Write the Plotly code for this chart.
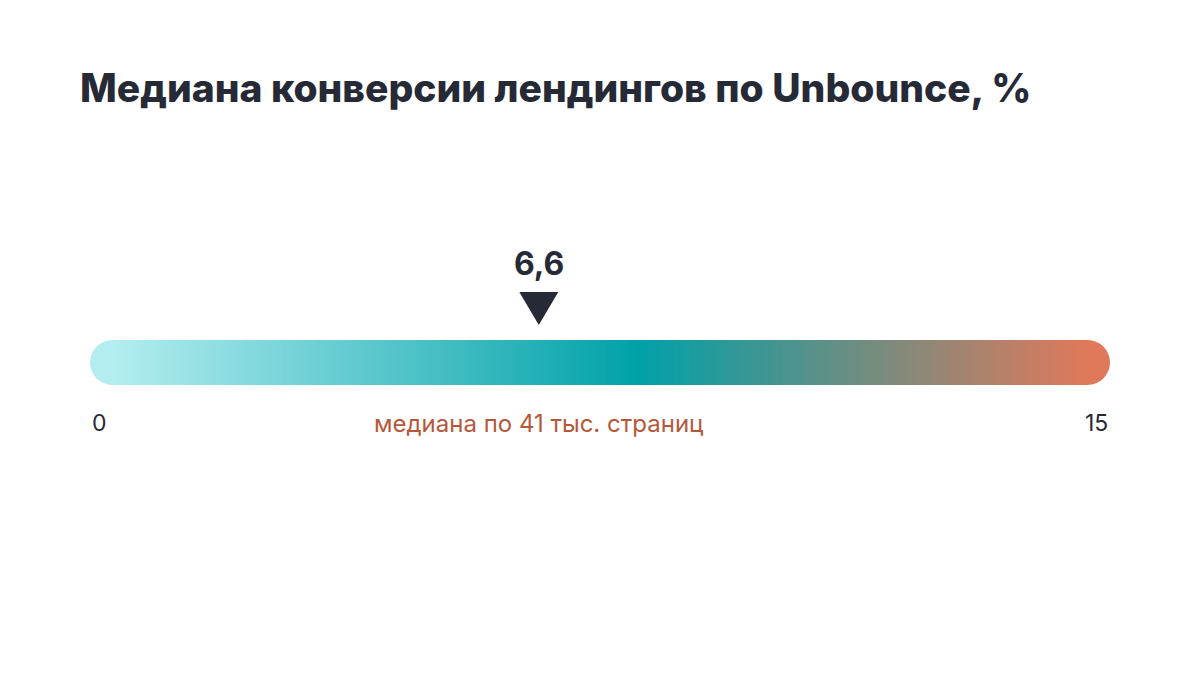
import numpy as np
import plotly.graph_objects as go

# chart data
title_text = "Медиана конверсии лендингов по Unbounce, %"
scale_min = 0
scale_max = 15
median_value = 6.6
median_note = "медиана по 41 тыс. страниц"

# gradient stops (position on scale as fraction, colour)
grad_stops = [[0.0, "#B3EDF0"], [0.54, "#00A1A8"], [1.0, "#E0795A"]]

W, H = 1200, 675
off = 8  # page body margin pushes the figure 8px right and down
left, right = 90 - off, 90 + off
bar_top, bar_bot = 340 - off, 385 - off
bar_h = bar_bot - bar_top
plot_w = W - left - right
radius_units = (bar_h / 2) / plot_w * (scale_max - scale_min)

# heatmap cells for the gradient body (ends rounded by circles below it)
edges = np.linspace(scale_min + radius_units, scale_max - radius_units, 401)
centers = (edges[:-1] + edges[1:]) / 2

fig = go.Figure()
fig.add_trace(go.Heatmap(
    x=edges, y=[bar_top, bar_bot], z=[centers],
    colorscale=grad_stops, zmin=centers[0], zmax=centers[-1],
    showscale=False, hoverinfo="skip", zsmooth=False,
))

tri_top, tri_bot = 292 - off, 325 - off
shapes = [
    dict(type="circle", xref="x", yref="y", xsizemode="pixel", xanchor=scale_min,
         x0=0, x1=bar_h, y0=bar_top, y1=bar_bot, fillcolor=grad_stops[0][1],
         line=dict(width=0), layer="below"),
    dict(type="circle", xref="x", yref="y", xsizemode="pixel", xanchor=scale_max,
         x0=-bar_h, x1=0, y0=bar_top, y1=bar_bot, fillcolor=grad_stops[-1][1],
         line=dict(width=0), layer="below"),
    # median pointer
    dict(type="path", xref="x", yref="y", xsizemode="pixel", xanchor=median_value,
         path=f"M-19.5,{tri_top} L19.5,{tri_top} L0,{tri_bot} Z", fillcolor="#262A36",
         line=dict(width=0)),
]

dark = "#262A36"
label_y = 423 - off
annotations = [
    dict(x=median_value, y=263 - off, xref="x", yref="y", text=f"{median_value:.1f}".replace(".", ","),
         showarrow=False, xanchor="center", yanchor="middle",
         font=dict(family="Inter", size=32, color=dark, weight=700)),
    dict(x=scale_min, y=label_y, xref="x", yref="y", text=str(scale_min), showarrow=False,
         xanchor="left", yanchor="middle", font=dict(family="Inter", size=23, color=dark)),
    dict(x=scale_max, y=label_y, xref="x", yref="y", text=str(scale_max), showarrow=False,
         xanchor="right", yanchor="middle", font=dict(family="Inter", size=23, color=dark)),
    dict(x=median_value, y=label_y, xref="x", yref="y", text=median_note, showarrow=False,
         xanchor="center", yanchor="middle", font=dict(family="Inter", size=24, color="#B5583A")),
]

fig.update_layout(
    width=W, height=H,
    margin=dict(l=left, r=right, t=0, b=0),
    paper_bgcolor="white", plot_bgcolor="white",
    showlegend=False,
    title=dict(text=title_text, x=(80 - off) / W, xanchor="left", y=1 - (88 - off) / H, yanchor="middle",
               xref="container", yref="container",
               font=dict(family="Inter", size=39, color=dark, weight=800)),
    xaxis=dict(range=[scale_min, scale_max], visible=False, fixedrange=True),
    yaxis=dict(range=[H, 0], visible=False, fixedrange=True),
    shapes=shapes,
    annotations=annotations,
)

fig.write_html("out.html")
